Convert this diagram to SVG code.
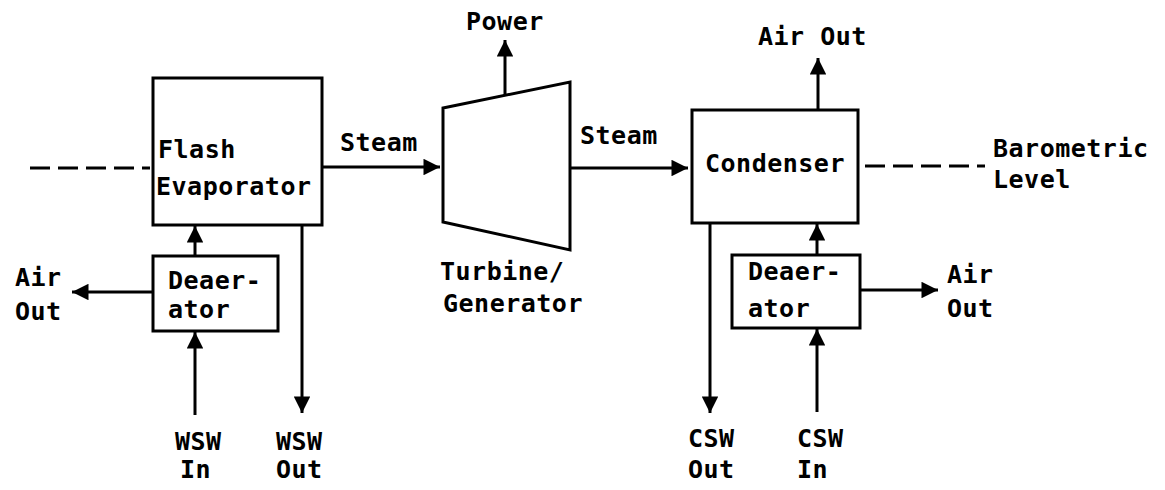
<svg xmlns="http://www.w3.org/2000/svg" width="1165" height="490" viewBox="0 0 1165 490">
<style>
.box{fill:none;stroke:#000;stroke-width:3}
.ln{fill:none;stroke:#000;stroke-width:3}
.dash{fill:none;stroke:#000;stroke-width:3;stroke-dasharray:20 8}
text{font-family:"DejaVu Sans Mono","Liberation Mono",monospace;font-size:25px;font-weight:bold;letter-spacing:0.5px;fill:#000}
</style>
<defs>
<marker id="ah" viewBox="0 0 10 10" refX="10" refY="5" markerWidth="7" markerHeight="5.5" markerUnits="strokeWidth" orient="auto">
<path d="M0,0 L10,5 L0,10 z" fill="#000"/>
</marker>
</defs>
<rect width="1165" height="490" fill="#fff"/>
<g id="flash-evaporator">
<rect class="box" x="153" y="78" width="169" height="147"/>
<text x="158" y="158">Flash</text>
<text x="156" y="195">Evaporator</text>
</g>
<g id="deaerator-left">
<rect class="box" x="153" y="256" width="125" height="75"/>
<text x="168" y="289">Deaer-</text>
<text x="168" y="318">ator</text>
</g>
<g id="turbine">
<path class="box" d="M443,108 L570,82 L570,250 L443,222 Z"/>
<text x="440" y="280">Turbine/</text>
<text x="443" y="312">Generator</text>
</g>
<g id="condenser">
<rect class="box" x="692" y="110" width="166" height="113"/>
<text x="705" y="172">Condenser</text>
</g>
<g id="deaerator-right">
<rect class="box" x="732" y="255" width="128" height="73"/>
<text x="748" y="280">Deaer-</text>
<text x="748" y="317">ator</text>
</g>
<g id="labels">
<text x="15" y="286">Air</text>
<text x="15" y="320">Out</text>
<text x="175" y="450">WSW</text>
<text x="180" y="478">In</text>
<text x="276" y="450">WSW</text>
<text x="276" y="478">Out</text>
<text x="340" y="151">Steam</text>
<text x="466" y="30">Power</text>
<text x="580" y="144">Steam</text>
<text x="758" y="45">Air Out</text>
<text x="993" y="157">Barometric</text>
<text x="993" y="188">Level</text>
<text x="947" y="283">Air</text>
<text x="947" y="317">Out</text>
<text x="688" y="447">CSW</text>
<text x="688" y="478">Out</text>
<text x="797" y="447">CSW</text>
<text x="797" y="478">In</text>
</g>
<g id="connectors">
<line class="dash" x1="30" y1="168" x2="150" y2="168"/>
<line class="dash" x1="865" y1="166" x2="985" y2="166"/>
<line class="ln" x1="322" y1="167" x2="440" y2="167" marker-end="url(#ah)"/>
<line class="ln" x1="570" y1="168" x2="688" y2="168" marker-end="url(#ah)"/>
<line class="ln" x1="505" y1="95" x2="505" y2="40" marker-end="url(#ah)"/>
<line class="ln" x1="818" y1="110" x2="818" y2="58" marker-end="url(#ah)"/>
<line class="ln" x1="195" y1="256" x2="195" y2="226" marker-end="url(#ah)"/>
<line class="ln" x1="153" y1="292" x2="72" y2="292" marker-end="url(#ah)"/>
<line class="ln" x1="195" y1="415" x2="195" y2="332" marker-end="url(#ah)"/>
<line class="ln" x1="302" y1="225" x2="302" y2="413" marker-end="url(#ah)"/>
<line class="ln" x1="710" y1="223" x2="710" y2="413" marker-end="url(#ah)"/>
<line class="ln" x1="817" y1="255" x2="817" y2="224" marker-end="url(#ah)"/>
<line class="ln" x1="817" y1="412" x2="817" y2="329" marker-end="url(#ah)"/>
<line class="ln" x1="860" y1="290" x2="938" y2="290" marker-end="url(#ah)"/>
</g>
</svg>
